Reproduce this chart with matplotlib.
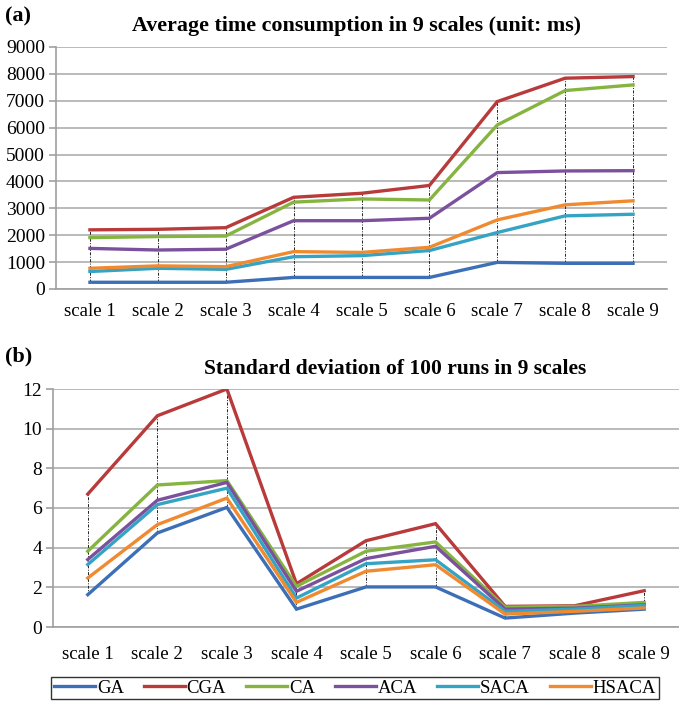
import matplotlib
matplotlib.use("Agg")
import matplotlib.pyplot as plt
import numpy as np

plt.rcParams["font.family"] = ["Liberation Serif", "DejaVu Serif"]

scales = ["scale 1", "scale 2", "scale 3", "scale 4", "scale 5", "scale 6", "scale 7", "scale 8", "scale 9"]
names = ["GA", "CGA", "CA", "ACA", "SACA", "HSACA"]
colors = ["#3d6fb6", "#b93a3a", "#86b440", "#7b519d", "#35a4c4", "#f08a30"]

# (a) average time consumption, ms
time_ga = [250, 250, 250, 430, 430, 430, 990, 955, 955]
time_cga = [2200, 2220, 2280, 3410, 3560, 3850, 6970, 7840, 7900]
time_ca = [1910, 1950, 1970, 3230, 3350, 3310, 6100, 7380, 7590]
time_aca = [1510, 1450, 1480, 2540, 2540, 2630, 4330, 4390, 4400]
time_saca = [650, 770, 730, 1200, 1240, 1430, 2100, 2720, 2780]
time_hsaca = [770, 860, 830, 1390, 1360, 1550, 2570, 3130, 3280]

# (b) standard deviation of 100 runs
std_ga = [1.63, 4.74, 6.03, 0.9, 2.02, 2.02, 0.45, 0.7, 0.9]
std_cga = [6.7, 10.65, 12.0, 2.18, 4.35, 5.21, 1.04, 1.07, 1.83]
std_ca = [3.82, 7.16, 7.38, 2.05, 3.82, 4.29, 1.0, 1.04, 1.24]
std_aca = [3.4, 6.39, 7.29, 1.8, 3.45, 4.07, 0.9, 0.95, 1.12]
std_saca = [3.15, 6.17, 7.0, 1.46, 3.19, 3.39, 0.79, 0.9, 1.09]
std_hsaca = [2.47, 5.16, 6.5, 1.24, 2.81, 3.14, 0.65, 0.79, 0.96]

time_series = [time_ga, time_cga, time_ca, time_aca, time_saca, time_hsaca]
std_series = [std_ga, std_cga, std_ca, std_aca, std_saca, std_hsaca]

fig = plt.figure(figsize=(6.79, 7.01), dpi=100)
W, H = 679, 701
ax1 = fig.add_axes([56 / W, 1 - 289 / H, 611 / W, 242 / H])
ax2 = fig.add_axes([53 / W, 1 - 627 / H, 626 / W, 238 / H])


def draw(ax, series, ymax, step, pad):
    x = np.arange(len(scales))
    arr = np.array(series)
    ax.vlines(x, arr.min(axis=0), arr.max(axis=0), colors="#222222", linewidth=0.7,
              linestyles=(0, (3, 1.5, 1, 1.5)), zorder=2)
    for s, c, n in zip(series, colors, names):
        ax.plot(x, s, color=c, linewidth=2.4, label=n, zorder=3, solid_joinstyle="miter")
    ax.set_xlim(-0.5, len(scales) - 0.5)
    ax.set_ylim(0, ymax)
    ax.set_yticks(np.arange(0, ymax + step / 2, step))
    ax.set_xticks(x)
    ax.set_xticklabels(scales)
    ax.grid(axis="y", color="#b4b4b4", linewidth=1.3, zorder=0)
    ax.set_axisbelow(True)
    for sp in ["top", "right"]:
        ax.spines[sp].set_visible(False)
    for sp in ["bottom", "left"]:
        ax.spines[sp].set_color("#a0a0a0")
        ax.spines[sp].set_linewidth(1.2)
    ax.tick_params(axis="x", length=0, pad=pad, labelsize=13.5)
    ax.tick_params(axis="y", length=5, color="#a0a0a0", width=1.2, pad=3, labelsize=14)


draw(ax1, time_series, 9000, 1000, 10)
draw(ax2, std_series, 12, 2, 14)

fig.text(5 / W, 1 - 16 / H, "(a)", fontsize=16, fontweight="bold", va="center", ha="left")
fig.text(356 / W, 1 - 26 / H, "Average time consumption in 9 scales (unit: ms)", fontsize=15.8,
         fontweight="bold", va="center", ha="center")
fig.text(5 / W, 1 - 356 / H, "(b)", fontsize=16, fontweight="bold", va="center", ha="left")
fig.text(395 / W, 1 - 369 / H, "Standard deviation of 100 runs in 9 scales", fontsize=15.5,
         fontweight="bold", va="center", ha="center")

handles, labels = ax2.get_legend_handles_labels()
leg = fig.legend(handles, labels, loc="center", bbox_to_anchor=(355 / W, 1 - 688 / H), ncol=6,
                 fontsize=13.5, frameon=True, fancybox=False, edgecolor="black",
                 handlelength=2.2, handletextpad=0.1, columnspacing=1.05,
                 borderpad=0.15, borderaxespad=0)
leg.get_frame().set_linewidth(1.0)

fig.savefig("out.png", dpi=100)
